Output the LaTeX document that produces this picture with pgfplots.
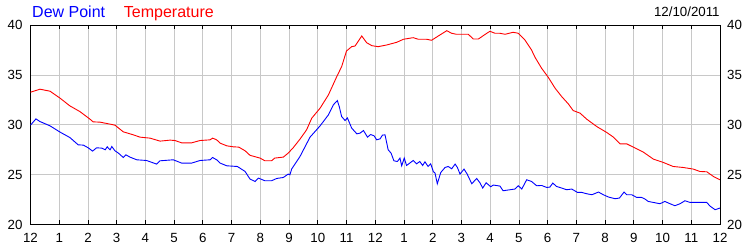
\documentclass[border=0pt]{standalone}
\usepackage{pgfplots}
\pgfplotsset{compat=1.18}
\usepackage{fontspec}
\setmainfont{Liberation Sans}
\definecolor{gridgray}{RGB}{200,200,200}
\begin{document}
\begin{tikzpicture}
\path[use as bounding box, fill=white] (0,0) rectangle (750bp,250bp);
\begin{axis}[
  scale only axis, width=689.5bp, height=199.7bp,
  at={(30.5bp,25.3bp)}, anchor=south west,
  xmin=0, xmax=24, ymin=20, ymax=40,
  xtick={0,1,...,24},
  xticklabels={12,1,2,3,4,5,6,7,8,9,10,11,12,1,2,3,4,5,6,7,8,9,10,11,12},
  ytick={20,25,30,35,40},
  grid=major,
  major grid style={draw=gridgray, line width=0.8bp},
  tick align=inside,
  xtick pos=both,
  ytick pos=left,
  major tick length=4.5bp,
  x tick style={black, line width=0.8bp},
  y tick style={draw=none},
  axis line style={black, line width=0.9bp},
  /pgf/number format/assume math mode=true,
  tick label style={font=\fontsize{13.3bp}{15bp}\selectfont, inner sep=0pt},
  xticklabel style={yshift=-8.3bp},
  yticklabel style={xshift=-7.8bp},
]
\addplot[red, line width=0.9bp] coordinates {
(0,33.27)(0.33,33.57)(0.68,33.37)(1.03,32.67)(1.37,31.9)(1.72,31.33)(2.07,30.57)(2.18,30.3)(2.42,30.27)(2.77,30.07)(2.94,29.97)(3.23,29.3)(3.58,29.0)(3.81,28.77)(4.16,28.67)(4.51,28.37)(4.86,28.47)(5.03,28.43)(5.26,28.2)(5.61,28.2)(5.9,28.43)(6.25,28.5)(6.34,28.67)(6.48,28.5)(6.6,28.17)(6.83,27.9)(7.06,27.8)(7.25,27.77)(7.47,27.4)(7.64,26.95)(7.99,26.67)(8.16,26.4)(8.39,26.4)(8.5,26.67)(8.8,26.77)(8.97,27.17)(9.15,27.73)(9.38,28.57)(9.61,29.5)(9.79,30.67)(10.08,31.67)(10.37,33.0)(10.66,34.83)(10.83,35.83)(11.0,37.4)(11.18,37.83)(11.3,37.9)(11.53,38.9)(11.7,38.23)(11.88,37.93)(12.1,37.83)(12.4,38.0)(12.75,38.27)(12.98,38.57)(13.32,38.73)(13.5,38.57)(13.79,38.57)(13.96,38.47)(14.25,39.0)(14.49,39.43)(14.66,39.17)(14.83,39.07)(15.24,39.07)(15.41,38.6)(15.59,38.6)(15.76,38.93)(15.99,39.37)(16.17,39.17)(16.34,39.17)(16.52,39.07)(16.8,39.27)(16.98,39.17)(17.21,38.5)(17.44,37.5)(17.56,36.77)(17.79,35.67)(18.02,34.77)(18.26,33.67)(18.49,32.83)(18.72,32.1)(18.89,31.43)(19.13,31.17)(19.36,30.57)(19.71,29.83)(20.06,29.23)(20.29,28.77)(20.52,28.1)(20.75,28.1)(20.98,27.77)(21.33,27.27)(21.68,26.57)(22.03,26.23)(22.37,25.83)(22.72,25.73)(23.07,25.57)(23.3,25.33)(23.54,25.3)(23.77,24.83)(24.0,24.5)
};
\addplot[blue, line width=0.9bp] coordinates {
(0,29.97)(0.19,30.6)(0.33,30.33)(0.68,29.9)(1.03,29.27)(1.37,28.73)(1.66,28.0)(1.84,27.97)(2.01,27.7)(2.16,27.37)(2.3,27.7)(2.48,27.67)(2.6,27.5)(2.67,27.8)(2.77,27.5)(2.83,27.83)(2.94,27.4)(3.06,27.17)(3.23,26.73)(3.32,27.0)(3.46,26.77)(3.7,26.5)(4.04,26.43)(4.39,26.07)(4.51,26.4)(4.97,26.5)(5.26,26.17)(5.61,26.17)(5.9,26.43)(6.25,26.5)(6.34,26.73)(6.48,26.5)(6.6,26.17)(6.83,25.9)(7.2,25.83)(7.47,25.33)(7.64,24.57)(7.82,24.33)(7.93,24.67)(8.16,24.4)(8.39,24.4)(8.57,24.63)(8.8,24.73)(8.97,25.07)(9.03,25.0)(9.09,25.57)(9.38,26.83)(9.73,28.77)(10.08,29.9)(10.37,31.0)(10.54,32.0)(10.68,32.43)(10.75,31.8)(10.83,30.83)(10.95,30.43)(11.03,30.7)(11.18,29.67)(11.36,29.1)(11.47,29.17)(11.59,29.43)(11.73,28.77)(11.84,29.03)(11.96,28.9)(12.05,28.5)(12.17,28.6)(12.25,28.97)(12.34,29.0)(12.45,27.5)(12.55,27.17)(12.65,26.4)(12.77,26.33)(12.86,26.67)(12.92,25.9)(13.01,26.67)(13.09,25.93)(13.32,26.43)(13.44,26.1)(13.55,26.33)(13.65,25.93)(13.73,26.3)(13.84,25.83)(13.93,26.1)(14.02,25.33)(14.08,25.17)(14.16,24.1)(14.28,25.23)(14.43,25.73)(14.54,25.83)(14.66,25.6)(14.78,26.07)(14.86,25.73)(14.95,25.07)(15.09,25.57)(15.2,25.07)(15.36,24.1)(15.53,24.63)(15.65,24.17)(15.74,23.67)(15.86,24.2)(16.02,23.8)(16.11,23.97)(16.34,23.87)(16.45,23.4)(16.69,23.5)(16.86,23.57)(16.98,23.9)(17.1,23.57)(17.27,24.5)(17.44,24.33)(17.62,23.9)(17.79,23.93)(17.97,23.73)(18.08,23.77)(18.18,24.17)(18.31,23.83)(18.49,23.67)(18.66,23.5)(18.84,23.57)(19.04,23.23)(19.19,23.23)(19.36,23.1)(19.54,23.0)(19.77,23.27)(19.94,23.0)(20.12,22.77)(20.35,22.6)(20.5,22.67)(20.66,23.27)(20.75,23.0)(20.93,23.0)(21.1,22.73)(21.27,22.73)(21.39,22.57)(21.5,22.33)(21.68,22.23)(21.91,22.1)(22.08,22.33)(22.26,22.1)(22.43,21.9)(22.61,22.1)(22.78,22.4)(22.96,22.23)(23.19,22.23)(23.54,22.23)(23.65,21.87)(23.83,21.5)(24.0,21.67)
};
\end{axis}
\begin{axis}[
  scale only axis, width=689.5bp, height=199.7bp,
  at={(30.5bp,25.3bp)}, anchor=south west,
  xmin=0, xmax=24, ymin=20, ymax=40,
  axis x line=none,
  axis y line*=right,
  axis line style={black, line width=0.9bp},
  ytick={20,25,30,35,40},
  y tick style={draw=none},
  /pgf/number format/assume math mode=true,
  tick label style={font=\fontsize{13.3bp}{15bp}\selectfont, inner sep=0pt},
  yticklabel style={xshift=7bp},
]
\end{axis}
\node[anchor=base west, inner sep=0pt, text=blue, font=\fontsize{16bp}{18bp}\selectfont] at (32bp,232bp) {Dew Point};
\node[anchor=base west, inner sep=0pt, text=red, font=\fontsize{16bp}{18bp}\selectfont] at (123.7bp,232bp) {Temperature};
\node[anchor=base east, inner sep=0pt, font=\fontsize{13.3bp}{15bp}\selectfont] at (719.8bp,233.3bp) {12/10/2011};
\end{tikzpicture}
\end{document}
